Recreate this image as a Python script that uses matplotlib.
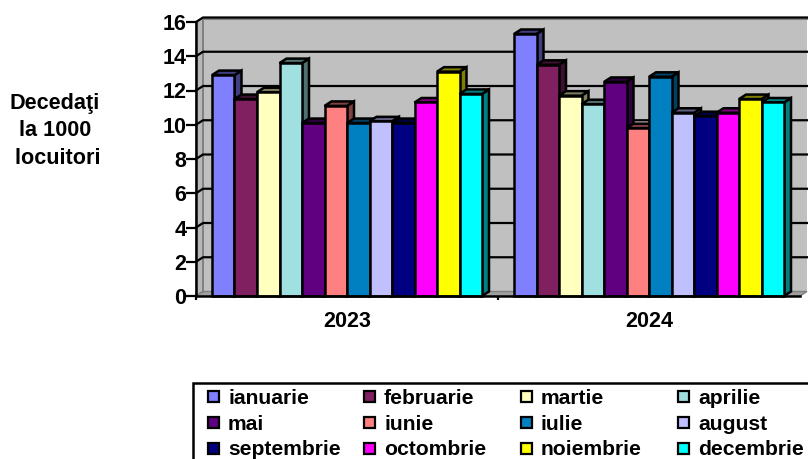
import matplotlib
matplotlib.use("Agg")
import matplotlib.pyplot as plt
from matplotlib.patches import Rectangle
from matplotlib.transforms import Affine2D

plt.rcParams['font.family'] = ['Liberation Sans', 'DejaVu Sans']
plt.rcParams['font.weight'] = 'bold'

years = ['2023', '2024']
months = ['ianuarie', 'februarie', 'martie', 'aprilie', 'mai', 'iunie', 'iulie',
          'august', 'septembrie', 'octombrie', 'noiembrie', 'decembrie']
values_2023 = [12.9, 11.5, 11.9, 13.6, 10.1, 11.1, 10.1, 10.2, 10.1, 11.3, 13.1, 11.8]
values_2024 = [15.3, 13.5, 11.7, 11.2, 12.5, 9.8, 12.8, 10.7, 10.5, 10.7, 11.5, 11.3]
colors = ['#8080ff', '#802060', '#ffffc0', '#a0e0e0', '#600080', '#ff8080',
          '#0080c0', '#c0c0ff', '#000080', '#ff00ff', '#ffff00', '#00ffff']
side_colors = ['#404080', '#401030', '#808060', '#507070', '#300040', '#804040',
               '#004060', '#606080', '#000040', '#800080', '#808000', '#008080']
yticks = list(range(0, 17, 2))

W, H = 808, 459
fig = plt.figure(figsize=(W / 100, H / 100), dpi=100)
ax = fig.add_axes([196 / W, 1 - 296 / H, 604 / W, 274 / H])
ax.set_xlim(0, 2)
ax.set_ylim(0, 16)
ax.patch.set_visible(False)

# adancimea falsa a graficului 3D, in unitati de date
dx = 7 / 302
dy = 4.5 / 17.125
bw = 22.5 / 302
gap = (1 - 12 * bw) / 2
lw = 1.8

# peretii
ax.fill([dx, 2 + dx, 2 + dx, dx], [dy, dy, 16 + dy, 16 + dy], fc='#c0c0c0', ec='none', zorder=0, clip_on=False)
ax.fill([0, dx, dx, 0], [0, dy, 16 + dy, 16], fc='#b8b8b8', ec='#808080', lw=1.2, zorder=0.1, clip_on=False)
ax.fill([0, 2, 2 + dx, dx], [0, 0, dy, dy], fc='#a0a0a0', ec='#808080', lw=1, zorder=0.1, clip_on=False)
ax.plot([dx, 2 + dx], [16 + dy, 16 + dy], color='#808080', lw=2.2, zorder=0.2, clip_on=False)
ax.plot([dx, dx], [dy, 16 + dy], color='#808080', lw=1.2, zorder=0.2, clip_on=False)

for t in yticks[1:]:
    ax.plot([0, dx, 2 + dx], [t, t + dy, t + dy], color='black', lw=1.6, zorder=0.5, clip_on=False)

z = 2
for g, vals in enumerate([values_2023, values_2024]):
    for i, v in enumerate(vals):
        x0 = g + gap + i * bw
        x1 = x0 + bw
        ax.fill([x1, x1 + dx, x1 + dx, x1], [0, dy, v + dy, v], fc=side_colors[i], ec='black',
                lw=lw, joinstyle='miter', zorder=z, clip_on=False)
        ax.fill([x0, x1, x1 + dx, x0 + dx], [v, v, v + dy, v + dy], fc=side_colors[i], ec='black',
                lw=lw, joinstyle='miter', zorder=z, clip_on=False)
        ax.fill([x0, x1, x1, x0], [0, 0, v, v], fc=colors[i], ec='black',
                lw=lw, joinstyle='miter', zorder=z + 0.1, clip_on=False)
        z += 0.2

for s in ['top', 'right']:
    ax.spines[s].set_visible(False)
for s in ['left', 'bottom']:
    ax.spines[s].set_linewidth(1.8)
    ax.spines[s].set_zorder(50)

ax.set_yticks(yticks)
ax.set_yticklabels([str(t) for t in yticks], fontsize=15.5, fontweight='bold')
ax.tick_params(axis='y', length=7, width=1.6, pad=0)
ax.set_xticks([0, 1])
ax.set_xticklabels(['', ''])
ax.tick_params(axis='x', which='major', length=3, width=1.6)
ax.set_xticks([0.5, 1.5], minor=True)
ax.set_xticklabels(years, minor=True, fontsize=15.5, fontweight='bold')
ax.tick_params(axis='x', which='minor', length=0, pad=11)

# coordonate in pixeli, cu originea sus
px = Affine2D().scale(1, -1).translate(0, H)

for line, y in zip(['Decedaţi', 'la 1000', ' locuitori'], [103, 130, 158]):
    fig.text(55, y, line, transform=px, ha='center', va='center', fontsize=15.6, fontweight='bold')

# legenda
fig.add_artist(Rectangle((193, 382.5), 700, 100, transform=px, fc='white', ec='black', lw=1.8))
col_x = [208, 364, 521, 678]
row_y = [396, 422, 447.5]
for i, m in enumerate(months):
    r, c = divmod(i, 4)
    fig.add_artist(Rectangle((col_x[c], row_y[r] - 5), 11, 11, transform=px, fc=colors[i], ec='black', lw=1.6))
    fig.text(col_x[c] + 20, row_y[r], m, transform=px, ha='left', va='center_baseline',
             fontsize=15.2, fontweight='bold')

fig.savefig('out.png', dpi=100)
